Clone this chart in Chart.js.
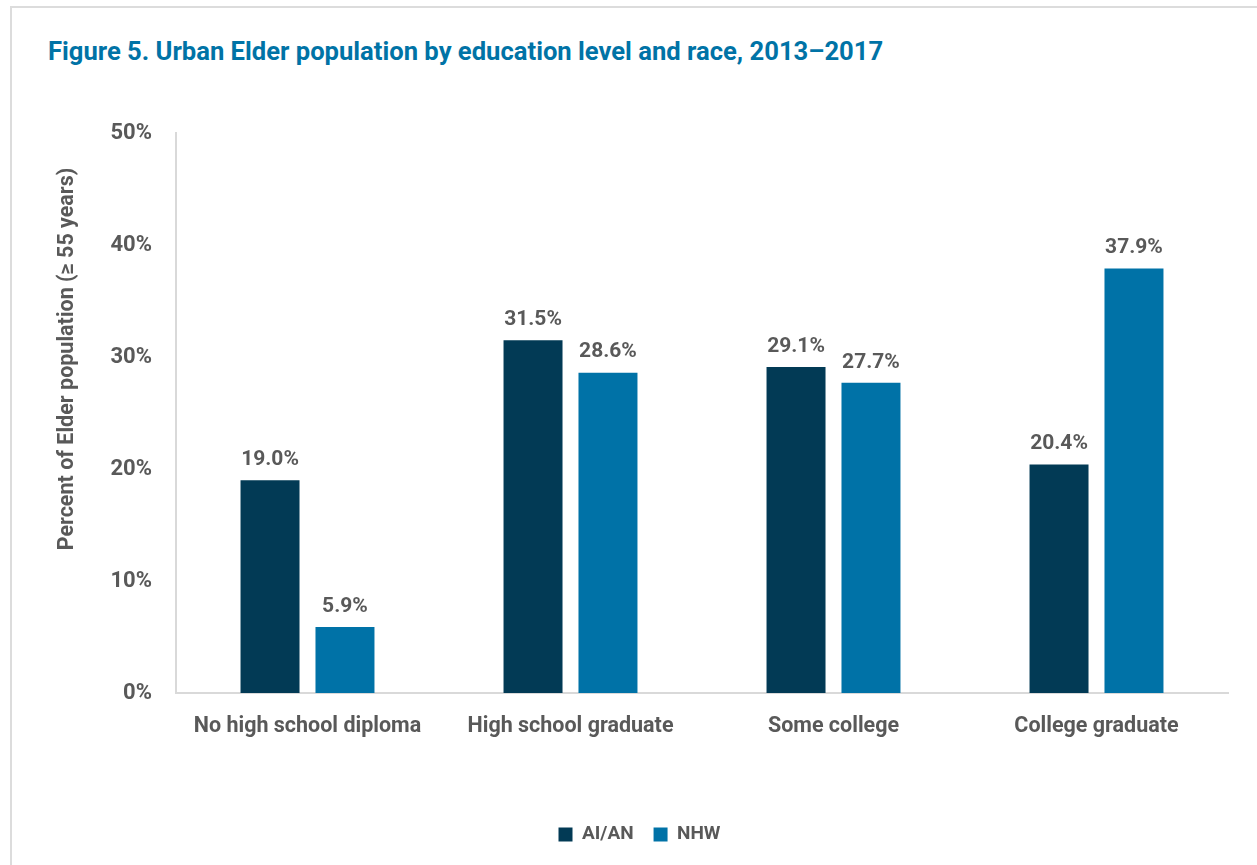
<!DOCTYPE html>
<html>
<head>
<meta charset="utf-8">
<script src="https://cdn.jsdelivr.net/npm/chart.js@4/dist/chart.umd.min.js"></script>
<style>
  body { margin: 0; background: #fff; }
  #frame {
    position: absolute; left: 10px; top: 6px; right: -10px; bottom: -10px;
    border-top: 2px solid #dcdcdc; border-left: 2px solid #dcdcdc;
  }
  #title {
    position: absolute; left: 48px; top: 36px;
    font: bold 25.6px Roboto, sans-serif;
    color: #0073a6; white-space: nowrap;
  }
  #wrap { position: absolute; left: 0; top: 0; width: 1257px; height: 865px; }
</style>
</head>
<body>
<div id="frame"></div>
<div id="title">Figure 5. Urban Elder population by education level and race, 2013–2017</div>
<div id="wrap"><canvas id="barChart"></canvas></div>
<script>
// Bildungsniveau der älteren urbanen Bevölkerung
let categories = ["No high school diploma", "High school graduate", "Some college", "College graduate"];
let seriesNames = ["AI/AN", "NHW"];
let aianValues = [19.0, 31.5, 29.1, 20.4];
let nhwValues = [5.9, 28.6, 27.7, 37.9];
let yTicks = [0, 10, 20, 30, 40, 50];
let yTitle = "Percent of Elder population (≥ 55 years)";

let fontFamily = "Roboto, sans-serif";
let textGrey = "#595959";

// Wertbeschriftung über jedem Balken
let valueLabels = {
  id: "valueLabels",
  afterDatasetsDraw: function(chart){
    let ctx = chart.ctx;
    ctx.save();
    ctx.font = "bold 21px " + fontFamily;
    ctx.fillStyle = textGrey;
    ctx.textAlign = "center";
    ctx.textBaseline = "bottom";
    chart.data.datasets.forEach(function(ds, i){
      chart.getDatasetMeta(i).data.forEach(function(bar, j){
        ctx.fillText(ds.data[j].toFixed(1) + "%", bar.x, bar.y - 10);
      });
    });
    ctx.restore();
  }
};

// Achsentitel links, etwas über der Mitte
let yAxisTitle = {
  id: "yAxisTitle",
  afterDraw: function(chart){
    let ctx = chart.ctx;
    ctx.save();
    ctx.translate(68, 359);
    ctx.rotate(-Math.PI / 2);
    ctx.font = "bold 21.5px " + fontFamily;
    ctx.fillStyle = textGrey;
    ctx.textAlign = "center";
    ctx.textBaseline = "middle";
    ctx.fillText(yTitle, 0, 0);
    ctx.restore();
  }
};

new Chart(document.getElementById("barChart"), {
  type: "bar",
  data: {
    labels: categories,
    datasets: [{
      label: seriesNames[0],
      data: aianValues,
      backgroundColor: "#023a55"
    }, {
      label: seriesNames[1],
      data: nhwValues,
      backgroundColor: "#0072a7"
    }]
  },
  options: {
    responsive: true,
    maintainAspectRatio: false,
    animation: false,
    categoryPercentage: 0.57,
    barPercentage: 0.787,
    layout: { padding: { left: 51, right: 29, top: 133, bottom: 11 } },
    plugins: {
      title: { display: false },
      tooltip: { enabled: false },
      legend: {
        position: "bottom",
        labels: {
          font: { family: fontFamily, size: 19, weight: "bold" },
          color: textGrey,
          boxWidth: 14,
          boxHeight: 14,
          padding: 20
        }
      }
    },
    scales: {
      x: {
        grid: { display: false, drawTicks: false },
        border: { color: "#d9d9d9", width: 2 },
        ticks: {
          font: { family: fontFamily, size: 21.5, weight: "bold" },
          color: textGrey,
          padding: 21,
          maxRotation: 0
        },
        afterFit: function(scale){ scale.height = 112; }
      },
      y: {
        min: 0,
        max: 50,
        afterBuildTicks: function(scale){
          scale.ticks = yTicks.map(function(v){ return { value: v }; });
        },
        grid: { display: false, drawTicks: false },
        border: { color: "#d9d9d9", width: 2 },
        ticks: {
          font: { family: fontFamily, size: 22, weight: "bold" },
          color: textGrey,
          padding: 24,
          callback: function(v){ return v + "%"; }
        },
        afterFit: function(scale){ scale.width = 125; }
      }
    }
  },
  plugins: [valueLabels, yAxisTitle]
});
</script>
</body>
</html>
